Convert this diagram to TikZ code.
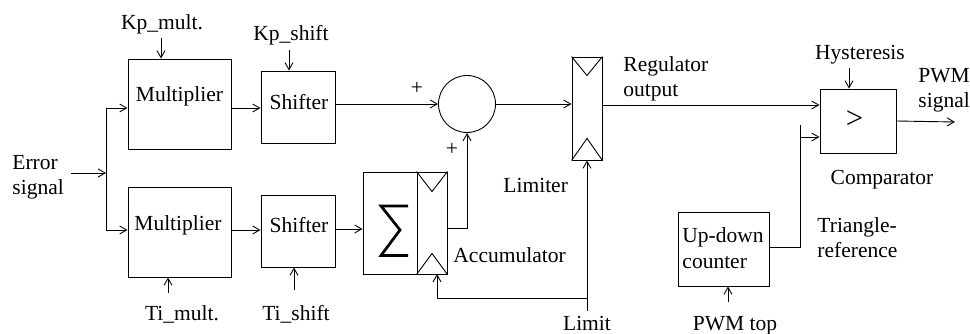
\documentclass[tikz,border=0pt]{standalone}
\usepackage{fontspec}
\setmainfont{Liberation Serif}
\usetikzlibrary{arrows.meta,calc}
\begin{document}
\begin{tikzpicture}[x=1pt,y=-1pt,
  line width=0.9pt,
  txt/.style={inner sep=0pt, font=\fontsize{21.5}{25}\selectfont},
  box/.style={draw, inner sep=0pt},
  arr/.style={-{Straight Barb[length=7pt,width=8pt]}}]
\useasboundingbox (0,0) rectangle (970,334);

% boxes
\node[box, minimum width=103pt, minimum height=90pt] (m1) at (179.5,104) {};
\node[box, minimum width=103pt, minimum height=90pt] (m2) at (179.5,232) {};
\node[box, minimum width=74pt, minimum height=72pt] (s1) at (298,107) {};
\node[box, minimum width=74pt, minimum height=72pt] (s2) at (298,231) {};
\node[box, minimum width=54pt, minimum height=102pt] (sig) at (390,223) {};
\node[box, minimum width=30pt, minimum height=102pt] (accr) at (432,223) {};
\node[draw, circle, minimum size=57pt, inner sep=0pt] (c) at (467,104) {};
\node[box, minimum width=30pt, minimum height=103pt] (lim) at (587,108.5) {};
\node[box, minimum width=76pt, minimum height=64pt] (cmp) at (858,121) {};
\node[box, minimum width=91pt, minimum height=74pt] (udc) at (723.5,249) {};

% register triangles
\draw (lim.north west) -- ($(lim.north)+(0,19)$) -- (lim.north east);
\draw (lim.south west) -- ($(lim.south)+(0,-22)$) -- (lim.south east);
\draw (accr.north west) -- ($(accr.north)+(0,20)$) -- (accr.north east);
\draw (accr.south west) -- ($(accr.south)+(0,-21)$) -- (accr.south east);

% sigma sign
\draw[line width=2.7pt, line join=miter] (408,206) -- (381,206) -- (400,230) -- (381,255.5) -- (408,255.5);

% texts inside
\node[txt, anchor=base] (m1t) at (179.5,102) {Multiplier};
\node[txt, anchor=base] (m2t) at (178,230) {Multiplier};
\node[txt, anchor=base] (s1t) at (299,110) {Shifter};
\node[txt, anchor=base] (s2t) at (299,233) {Shifter};
\node[inner sep=0pt, font=\fontsize{31}{31}\selectfont] (gt) at (854.5,120) {>};
\node[txt, anchor=base west, align=left] (udct) at (682,268) {Up-down\\counter};

% outside labels
\node[txt, anchor=base west, align=left] (err) at (12,195) {Error\\signal};
\node[txt, anchor=base] (kpm) at (162,30) {Kp\_mult.};
\node[txt, anchor=base] (kps) at (291,41) {Kp\_shift};
\node[txt, anchor=base] (tim) at (182,320) {Ti\_mult.};
\node[txt, anchor=base] (tis) at (296,320) {Ti\_shift};
\node[txt, anchor=base] (p1) at (417,95) {+};
\node[txt, anchor=base] (p2) at (452,156) {+};
\node[txt, anchor=base west] (acct) at (453,262) {Accumulator};
\node[txt, anchor=base west] (limt) at (503,193) {Limiter};
\node[txt, anchor=base] (limitt) at (587,330) {Limit};
\node[txt, anchor=base west, align=left] (regt) at (623,97) {Regulator\\output};
\node[txt, anchor=base] (hyst) at (860,60) {Hysteresis};
\node[txt, anchor=base west, align=left] (pwmt) at (918,108) {PWM\\signal};
\node[txt, anchor=base] (cmpt) at (882,185) {Comparator};
\node[txt, anchor=base west, align=left] (trit) at (817,258) {Triangle-\\reference};
\node[txt, anchor=base] (pwmtop) at (735,330) {PWM top};

% coordinates for free ends and junctions
\coordinate (errend) at (71,173);
\coordinate (j) at (106,173);
\coordinate (jt) at (106,108);
\coordinate (jb) at (106,230);
\coordinate (kpmend) at (161,38);
\coordinate (kpsend) at (289,50);
\coordinate (timend) at (168,293);
\coordinate (tisend) at (294,290);
\coordinate (limitend) at (587,311);
\coordinate (lb) at (587,298);
\coordinate (accin) at (437,274);
\coordinate (hysend) at (849,68);
\coordinate (pwmout) at (955,122);
\coordinate (tv) at (800,125);
\coordinate (tin) at (800,137);
\coordinate (pwmtopend) at (728,302);

% connectors
\draw[arr] (errend) -- (j);
\draw (jt) -- (jb);
\draw[arr] (jt) -- (jt -| m1.west);
\draw[arr] (jb) -- (jb -| m2.west);
\draw[arr] (kpmend) -- (kpmend |- m1.north);
\draw[arr] (kpsend) -- (kpsend |- s1.north);
\draw[arr] (timend) -- (timend |- m2.south);
\draw[arr] (tisend) -- (tisend |- s2.south);
\draw[arr] (m1.east |- jt) -- (s1.west |- jt);
\draw[arr] (m2.east |- jb) -- (s2.west |- jb);
\draw[arr] (s1.east |- c) -- (c.west);
\draw[arr] (s2.east |- 0,229) -- (sig.west |- 0,229);
\draw[arr] (accr.east |- 0,228) -| (c.south);
\draw[arr] (c.east) -- (c.east -| lim.west);
\draw[arr] (lim.east |- 0,105) -- (cmp.west |- 0,105);
\draw[arr] (limitend) -- (lim.south);
\draw[arr] (lb) -| (accin);
\draw[arr] (hysend) -- (hysend |- cmp.north);
\draw[arr] (cmp.east) -- (pwmout);
\draw (udc.east |- 0,247) -| (tv);
\draw[arr] (tin) -- (tin -| cmp.west);
\draw[arr] (pwmtopend) -- (pwmtopend |- udc.south);
\end{tikzpicture}
\end{document}
